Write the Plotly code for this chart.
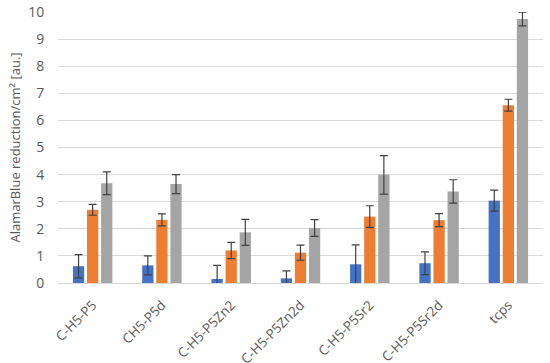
import plotly.graph_objects as go

categories = ["C-H5-P5", "CH5-P5d", "C-H5-P5Zn2", "C-H5-P5Zn2d", "C-H5-P5Sr2", "C-H5-P5Sr2d", "tcps"]
s1_vals = [0.62, 0.65, 0.15, 0.17, 0.69, 0.73, 3.04]
s1_err = [0.43, 0.35, 0.50, 0.28, 0.72, 0.42, 0.39]
s2_vals = [2.70, 2.33, 1.20, 1.12, 2.45, 2.32, 6.56]
s2_err = [0.20, 0.22, 0.30, 0.28, 0.40, 0.24, 0.22]
s3_vals = [3.68, 3.65, 1.87, 2.03, 3.99, 3.38, 9.74]
s3_err = [0.42, 0.35, 0.48, 0.31, 0.71, 0.43, 0.25]
y_ticks = [0, 1, 2, 3, 4, 5, 6, 7, 8, 9, 10]

colors = ["#4472C4", "#ED7D31", "#A5A5A5"]
font = "'Open Sans', sans-serif"

fig = go.Figure()
for vals, errs, col in zip([s1_vals, s2_vals, s3_vals], [s1_err, s2_err, s3_err], colors):
    fig.add_trace(go.Bar(
        x=categories, y=vals, marker=dict(color=col, line=dict(width=0)),
        error_y=dict(type="data", array=errs, visible=True, color="#404040", thickness=1.2, width=4),
        showlegend=False,
    ))

fig.update_layout(
    width=550, height=363,
    margin=dict(l=58, r=7, t=12, b=80),
    paper_bgcolor="white", plot_bgcolor="white",
    barmode="group", bargap=0.39, bargroupgap=0.2,
    font=dict(family=font, color="#595959", size=12),
    xaxis=dict(tickangle=-45, showgrid=False, showline=True, linecolor="#D9D9D9",
               ticks="outside", ticklen=8, tickcolor="rgba(0,0,0,0)", automargin=False,
               tickfont=dict(size=13.5, color="#595959")),
    yaxis=dict(range=[0, 10], tickvals=y_ticks, showgrid=True, gridcolor="#D9D9D9",
               gridwidth=1, zeroline=False, ticks="outside", ticklen=10,
               tickcolor="rgba(0,0,0,0)", automargin=False,
               tickfont=dict(size=14, color="#595959"),
               title=dict(text="AlamarBlue reduction/cm² [au.]", font=dict(size=13, color="#595959"),
                          standoff=4)),
)

fig.write_html("out.html", config={"displayModeBar": False},
               post_script="document.body.style.margin='0';document.body.style.overflow='hidden';")
